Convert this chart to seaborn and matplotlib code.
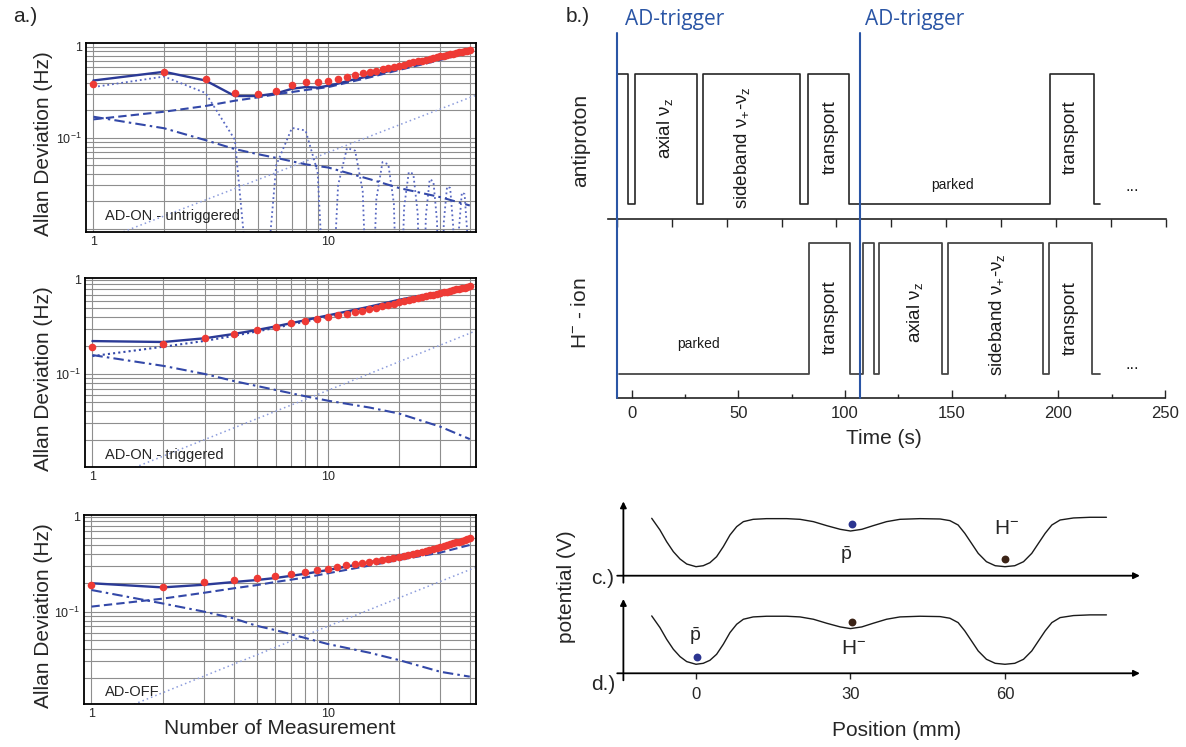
import matplotlib
matplotlib.use("Agg")
import matplotlib.pyplot as plt
from matplotlib.ticker import FixedLocator, FixedFormatter, NullFormatter
from matplotlib import transforms
from matplotlib.lines import Line2D
import seaborn as sns

# ---------------------------------------------------------------- data
n_meas = list(range(1, 41))

# a.) AD-ON, untriggered
adev_untrig = [0.386, 0.53, 0.44, 0.31, 0.305, 0.329, 0.38, 0.405, 0.412, 0.423,
               0.44, 0.46, 0.489, 0.51, 0.527, 0.545, 0.564, 0.583, 0.60, 0.618,
               0.636, 0.654, 0.671, 0.688, 0.704, 0.72, 0.736, 0.752, 0.767, 0.782,
               0.797, 0.811, 0.825, 0.839, 0.853, 0.867, 0.88, 0.893, 0.906, 0.92]
fit_untrig = [0.425, 0.53, 0.425, 0.287, 0.287, 0.307, 0.345, 0.36, 0.355, 0.373,
              0.393, 0.418, 0.44, 0.458, 0.476, 0.496, 0.518, 0.538, 0.556, 0.575,
              0.594, 0.614, 0.632, 0.649, 0.665, 0.681, 0.698, 0.714, 0.73, 0.75,
              0.766, 0.782, 0.797, 0.812, 0.827, 0.842, 0.858, 0.874, 0.89, 0.905]
osc_untrig = [0.36, 0.47, 0.31, 0.095, 2e-4, 0.05, 0.128, 0.12, 0.042, 2e-4,
              0.03, 0.077, 0.072, 0.026, 2e-4, 0.021, 0.054, 0.051, 0.019, 2e-4,
              0.017, 0.042, 0.04, 0.0148, 2e-4, 0.0138, 0.035, 0.033, 0.0122, 2e-4,
              0.0118, 0.029, 0.028, 0.0105, 2e-4, 0.0102, 0.025, 0.024, 0.0091, 2e-4]
comp_n = [1, 2, 3, 4, 5, 6, 8, 10, 15, 20, 30, 40]
rw_untrig = [0.159, 0.193, 0.223, 0.255, 0.277, 0.30, 0.334, 0.36, 0.46, 0.555, 0.715, 0.865]
white_untrig = [0.17, 0.127, 0.094, 0.075, 0.066, 0.06, 0.051, 0.047, 0.035, 0.028, 0.0222, 0.018]
drift_n = [1, 10, 42]
drift_untrig = [0.0069, 0.069, 0.29]

# a.) AD-ON, triggered
adev_trig = [0.192, 0.21, 0.24, 0.264, 0.294, 0.319, 0.346, 0.366, 0.382, 0.40,
             0.42, 0.438, 0.453, 0.472, 0.491, 0.508, 0.525, 0.542, 0.56, 0.578,
             0.594, 0.609, 0.625, 0.64, 0.655, 0.67, 0.684, 0.698, 0.712, 0.726,
             0.74, 0.753, 0.767, 0.78, 0.793, 0.806, 0.819, 0.832, 0.845, 0.86]
fit_trig_n = [1, 2, 3, 4, 5, 6, 7, 8, 9, 10, 12, 15, 20, 25, 30, 35, 40]
fit_trig = [0.224, 0.219, 0.24, 0.267, 0.294, 0.321, 0.348, 0.373, 0.398, 0.42,
            0.462, 0.52, 0.615, 0.685, 0.745, 0.795, 0.845]
rw_trig_n = [1, 2, 3, 4, 6, 10, 20, 30, 40]
rw_trig = [0.155, 0.195, 0.225, 0.255, 0.31, 0.405, 0.595, 0.72, 0.815]
white_trig = [0.159, 0.122, 0.10, 0.084, 0.0745, 0.0676, 0.058, 0.052, 0.044, 0.038, 0.0275, 0.0203]
drift_trig = [0.0067, 0.067, 0.285]

# a.) AD-OFF
adev_off = [0.191, 0.183, 0.204, 0.216, 0.228, 0.237, 0.251, 0.264, 0.275, 0.284,
            0.298, 0.307, 0.318, 0.325, 0.333, 0.343, 0.352, 0.361, 0.37, 0.379,
            0.389, 0.398, 0.408, 0.417, 0.427, 0.437, 0.447, 0.457, 0.467, 0.478,
            0.489, 0.5, 0.511, 0.523, 0.535, 0.547, 0.559, 0.571, 0.584, 0.597]
fit_off_n = [1, 2, 3, 4, 5, 6, 7, 8, 9, 10, 15, 20, 25, 30, 35, 40]
fit_off = [0.199, 0.18, 0.192, 0.205, 0.215, 0.226, 0.238, 0.25, 0.262, 0.274,
           0.33, 0.39, 0.437, 0.485, 0.54, 0.605]
rw_off = [0.113, 0.137, 0.158, 0.176, 0.19, 0.205, 0.228, 0.253, 0.305, 0.35, 0.418, 0.503]
white_off = [0.169, 0.122, 0.10, 0.085, 0.071, 0.064, 0.053, 0.0457, 0.037, 0.031, 0.0233, 0.0207]
drift_off = [0.0070, 0.070, 0.29]

# b.) measurement cycle: switching times (s) and trap state (1 = active, 0 = idle)
pbar_t = [0, 5.3, 8.2, 36.4, 39.3, 83.2, 87.1, 105.9, 197.0, 217.0, 220.0]
pbar_state = [1, 0, 1, 0, 1, 0, 1, 0, 1, 0, 0]
hion_t = [-5.9, 83.0, 102.5, 108.6, 113.6, 115.8, 145.5, 148.5, 192.6, 195.6, 216.0, 219.3]
hion_state = [0, 1, 0, 1, 0, 1, 0, 1, 0, 1, 0, 0]
trigger_t = [0, 110.7]

# c.), d.) trap potential along the axis
pos_mm = [-8.6, -7.0, -5.7, -4.4, -3.1, -1.8, 0.0, 1.4, 2.7, 4.0, 5.3, 6.6, 7.9, 9.2,
          11.1, 13.7, 17.6, 20.2, 22.8, 25.4, 28.0, 30.0, 32.2, 34.4, 37.0, 39.6,
          43.5, 47.4, 49.3, 50.9, 52.2, 53.5, 54.8, 56.4, 58.1, 60.0, 61.9, 63.6,
          65.2, 66.5, 67.8, 69.1, 70.7, 73.3, 76.5, 79.7]
potential = [1.012, 0.806, 0.60, 0.424, 0.294, 0.206, 0.159, 0.176, 0.229, 0.335,
             0.512, 0.718, 0.865, 0.953, 0.994, 1.006, 1.006, 0.994, 0.953, 0.882,
             0.818, 0.788, 0.818, 0.882, 0.953, 0.994, 1.006, 1.0, 0.971, 0.894,
             0.747, 0.571, 0.394, 0.247, 0.176, 0.159, 0.176, 0.247, 0.394, 0.571,
             0.747, 0.894, 0.982, 1.018, 1.03, 1.03]
pos_ticks = [0, 30, 60]
c_pbar = (30.2, 0.91)
c_hion = (60.0, 0.294)
d_pbar = (0.2, 0.282)
d_hion = (30.2, 0.906)

# ---------------------------------------------------------------- style
sns.set_theme(style="white")
plt.rcParams["font.family"] = ["Liberation Sans", "DejaVu Sans"]
plt.rcParams["mathtext.fontset"] = "custom"
plt.rcParams["mathtext.rm"] = "Liberation Sans"
plt.rcParams["mathtext.it"] = "Liberation Sans"

W, H = 1186, 747
fig = plt.figure(figsize=(W / 100, H / 100), dpi=100)


def add_ax(left, top, right, bottom):
    return fig.add_axes([left / W, 1 - bottom / H, (right - left) / W, (bottom - top) / H])


def ftext(x, y, s, **kw):
    kw.setdefault("ha", "center")
    kw.setdefault("va", "center")
    return fig.text(x / W, 1 - y / H, s, **kw)


C_FIT = "#2b3a96"
C_COMP = "#3348a8"
C_OSC = "#5868c2"
C_DRIFT = "#8c9cdc"
C_RED = "#ee3a35"

# ---------------------------------------------------------------- a.)
adev_panels = [
    dict(box=(86, 43, 476, 232), ylim=(0.0092, 1.098), adev=adev_untrig,
         fit=(n_meas, fit_untrig), rw=(comp_n, rw_untrig), rw_ls=(0, (4, 2)),
         white=white_untrig, drift=drift_untrig, osc=osc_untrig,
         label="AD-ON - untriggered", lab_y=216),
    dict(box=(85, 278, 476, 467), ylim=(0.01025, 1.05), adev=adev_trig,
         fit=(fit_trig_n, fit_trig), rw=(rw_trig_n, rw_trig), rw_ls=(0, (1, 1.5)),
         white=white_trig, drift=drift_trig, osc=None,
         label="AD-ON - triggered", lab_y=455),
    dict(box=(84, 515, 476, 704), ylim=(0.01067, 1.04), adev=adev_off,
         fit=(fit_off_n, fit_off), rw=(comp_n, rw_off), rw_ls=(0, (4, 2)),
         white=white_off, drift=drift_off, osc=None,
         label="AD-OFF", lab_y=692),
]

for p in adev_panels:
    ax = add_ax(*p["box"])
    ax.set_xscale("log")
    ax.set_yscale("log")
    line_kw = dict(ax=ax, estimator=None, sort=False, errorbar=None)
    sns.lineplot(x=drift_n, y=p["drift"], color=C_DRIFT, lw=1.1, linestyle=(0, (1, 2)), **line_kw)
    if p["osc"] is not None:
        sns.lineplot(x=n_meas, y=p["osc"], color=C_OSC, lw=1.3, linestyle=(0, (1, 1.6)), **line_kw)
    sns.lineplot(x=comp_n, y=p["white"], color=C_COMP, lw=1.5, linestyle=(0, (5, 2, 1.2, 2)), **line_kw)
    sns.lineplot(x=p["rw"][0], y=p["rw"][1], color=C_COMP, lw=1.5, linestyle=p["rw_ls"], **line_kw)
    sns.lineplot(x=p["fit"][0], y=p["fit"][1], color=C_FIT, lw=1.7, **line_kw)
    sns.scatterplot(x=n_meas, y=p["adev"], color=C_RED, s=30, linewidth=0, ax=ax, zorder=5)

    ax.set_xlim(0.93, 42.5)
    ax.set_ylim(*p["ylim"])
    ax.xaxis.set_major_locator(FixedLocator([1, 10]))
    ax.xaxis.set_minor_locator(FixedLocator([2, 3, 4, 5, 6, 7, 8, 9, 20, 30, 40]))
    ax.xaxis.set_major_formatter(FixedFormatter(["1", "10"]))
    ax.xaxis.set_minor_formatter(NullFormatter())
    ax.yaxis.set_major_locator(FixedLocator([0.1, 1]))
    ax.yaxis.set_minor_locator(FixedLocator([0.01, 0.02, 0.03, 0.04, 0.05, 0.06, 0.07, 0.08, 0.09,
                                             0.2, 0.3, 0.4, 0.5, 0.6, 0.7, 0.8, 0.9]))
    ax.yaxis.set_major_formatter(FixedFormatter([r"$\mathregular{10^{-1}}$", "1"]))
    ax.yaxis.set_minor_formatter(NullFormatter())
    ax.grid(True, which="both", color="#8e8e8e", lw=0.8)
    ax.set_axisbelow(True)
    ax.tick_params(which="both", length=0, labelsize=9, pad=3)
    for sp in ax.spines.values():
        sp.set_visible(True)
        sp.set_color("black")
        sp.set_linewidth(1.3)
    ax.set_xlabel("")
    ax.set_ylabel("")
    top, bottom = p["box"][1], p["box"][3]
    ftext(44, (top + bottom) / 2 + 6, "Allan Deviation (Hz)", rotation=90, fontsize=15)
    ftext(105, p["lab_y"], p["label"], ha="left", fontsize=10.5)

ftext(280, 729, "Number of Measurement", fontsize=15)
ftext(25, 17, "a.)", fontsize=15)

# ---------------------------------------------------------------- b.)
ax_p = add_ax(608, 60, 1166, 219)
ax_h = add_ax(616.7, 219, 1165, 398)

sns.lineplot(x=pbar_t, y=pbar_state, drawstyle="steps-post", color="#262626", lw=1.2,
             estimator=None, sort=False, errorbar=None, ax=ax_p)
sns.lineplot(x=hion_t, y=hion_state, drawstyle="steps-post", color="#474747", lw=1.3,
             estimator=None, sort=False, errorbar=None, ax=ax_h)

ax_p.set_xlim(-4, 250)
ax_p.set_ylim(-0.113, 1.107)
ax_h.set_xlim(-7, 250)
ax_h.set_ylim(-0.184, 1.186)
for ax in (ax_p, ax_h):
    for side in ("top", "left", "right"):
        ax.spines[side].set_visible(False)
    ax.spines["bottom"].set_color("#222222")
    ax.spines["bottom"].set_linewidth(1.2)
    ax.set_yticks([])
    ax.set_xlabel("")
    ax.set_ylabel("")
    ax.patch.set_alpha(0)

ax_p.set_xticks(list(range(0, 251, 25)))
ax_p.tick_params(axis="x", direction="out", length=6, width=1, labelbottom=False, bottom=True)
ax_h.set_xticks(list(range(0, 251, 50)))
ax_h.xaxis.set_minor_locator(FixedLocator(list(range(25, 250, 50))))
ax_h.tick_params(axis="x", which="major", direction="in", length=6, width=1, labelsize=12, pad=6, bottom=True)
ax_h.tick_params(axis="x", which="minor", direction="in", length=3, width=1, bottom=True)

# trigger markers across both traces
trig_tr = transforms.blended_transform_factory(ax_p.transData, fig.transFigure)
for t in trigger_t:
    fig.add_artist(Line2D([t, t], [1 - 33 / H, 1 - 398 / H], transform=trig_tr,
                          color="#2a55a5", lw=1.5))
ftext(625, 19, "AD-trigger", ha="left", fontsize=15, color="#2a55a5", family=["Open Sans", "DejaVu Sans"])
ftext(865, 19, "AD-trigger", ha="left", fontsize=15, color="#2a55a5", family=["Open Sans", "DejaVu Sans"])

nu_z = r"ν$_{\mathregular{z}}$"
sideband = r"sideband ν$_{\mathregular{+}}$-ν$_{\mathregular{z}}$"
pbar_labels = [
    (22.0, 0.586, "axial " + nu_z, 90, 13.5),
    (57.0, 0.432, sideband, 90, 13.5),
    (97.0, 0.519, "transport", 90, 13.5),
    (153.0, 0.148, "parked", 0, 10),
    (206.4, 0.516, "transport", 90, 13.5),
    (234.5, 0.14, "...", 0, 12),
]
hion_labels = [
    (31.3, 0.23, "parked", 0, 10),
    (93.0, 0.438, "transport", 90, 13.5),
    (133.0, 0.474, "axial " + nu_z, 90, 13.5),
    (171.2, 0.451, sideband, 90, 13.5),
    (205.6, 0.428, "transport", 90, 13.5),
    (234.5, 0.07, "...", 0, 12),
]
for ax, labels in ((ax_p, pbar_labels), (ax_h, hion_labels)):
    for x, y, s, rot, fs in labels:
        ax.text(x, y, s, rotation=rot, ha="center", va="center", fontsize=fs, color="#1a1a1a")

ftext(581, 140, "antiproton", rotation=90, fontsize=15)
ftext(581, 313, r"H$^{\mathregular{-}}$ - ion", rotation=90, fontsize=15)
ftext(884, 438, "Time (s)", fontsize=15)
ftext(578, 17, "b.)", fontsize=15)

# ---------------------------------------------------------------- c.), d.)
ax_c = add_ax(610, 498, 1150, 585)
ax_d = add_ax(610, 595.6, 1150, 682.6)
arrow = dict(arrowstyle="-|>", color="black", lw=1.3, mutation_scale=9, shrinkA=0, shrinkB=0)
for ax in (ax_c, ax_d):
    sns.lineplot(x=pos_mm, y=potential, color="#1a1a1a", lw=1.0, estimator=None,
                 sort=False, errorbar=None, ax=ax)
    ax.set_xlim(-16.7, 88.16)
    ax.set_ylim(-0.164, 1.37)
    for sp in ax.spines.values():
        sp.set_visible(False)
    ax.set_yticks([])
    ax.set_xlabel("")
    ax.set_ylabel("")
    ax.patch.set_alpha(0)
    ax.annotate("", xy=(86.2, 0), xytext=(-15.3, 0), arrowprops=arrow)
    ax.annotate("", xy=(-14.1, 1.31), xytext=(-14.1, -0.124), arrowprops=arrow)

ax_c.set_xticks([])
ax_d.spines["bottom"].set_position(("data", 0))
ax_d.set_xticks(pos_ticks)
ax_d.set_xticklabels([str(v) for v in pos_ticks])
ax_d.tick_params(axis="x", direction="out", length=4, width=1, labelsize=12, pad=6, bottom=True)

pbar_sym = r"$\mathregular{\bar{p}}$"
hion_sym = r"H$^{\mathregular{-}}$"
sns.scatterplot(x=[c_pbar[0]], y=[c_pbar[1]], color="#2c3590", s=32, linewidth=0, ax=ax_c, zorder=4)
sns.scatterplot(x=[c_hion[0]], y=[c_hion[1]], color="#3b2316", s=32, linewidth=0, ax=ax_c, zorder=4)
sns.scatterplot(x=[d_pbar[0]], y=[d_pbar[1]], color="#2c3590", s=32, linewidth=0, ax=ax_d, zorder=4)
sns.scatterplot(x=[d_hion[0]], y=[d_hion[1]], color="#3b2316", s=32, linewidth=0, ax=ax_d, zorder=4)
ax_c.text(29.2, 0.365, pbar_sym, ha="center", va="center", fontsize=14)
ax_c.text(60.3, 0.84, hion_sym, ha="center", va="center", fontsize=15)
ax_d.text(-0.2, 0.65, pbar_sym, ha="center", va="center", fontsize=14)
ax_d.text(30.5, 0.44, hion_sym, ha="center", va="center", fontsize=15)

ftext(603, 579, "c.)", fontsize=15)
ftext(603, 684, "d.)", fontsize=15)
ftext(567, 587, "potential (V)", rotation=90, fontsize=15)
ftext(897, 730, "Position (mm)", fontsize=15)

fig.savefig("out.png", dpi=100)
